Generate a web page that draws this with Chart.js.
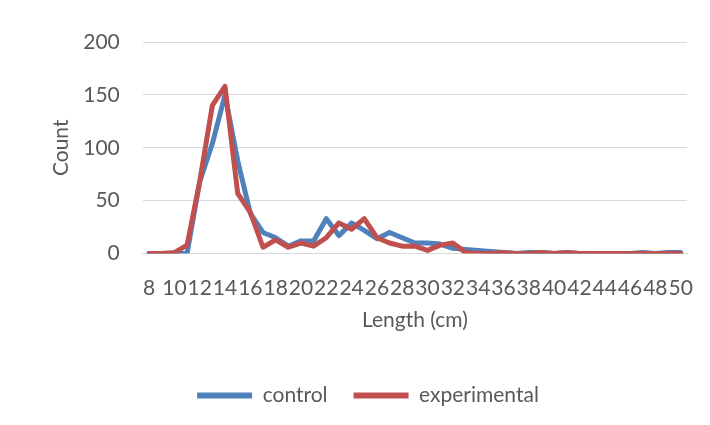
<!DOCTYPE html>
<html>
<head>
<meta charset="utf-8">
<script src="https://cdn.jsdelivr.net/npm/chart.js@4"></script>
<style>
  html, body { margin: 0; padding: 0; background: #ffffff; }
  #wrap { width: 710px; height: 425px; position: relative; }
</style>
</head>
<body>
<div id="wrap"><canvas id="c" width="710" height="425"></canvas></div>
<script>
const lengths = [8,9,10,11,12,13,14,15,16,17,18,19,20,21,22,23,24,25,26,27,28,29,30,31,32,33,34,35,36,37,38,39,40,41,42,43,44,45,46,47,48,49,50];
const control = [0,0,0,0,68,104,150,88,38,20,15,7,12,12,33,17,29,22,14,20,15,10,10,9,5,4,3,2,1,0,1,1,0,1,0,0,0,0,0,1,0,1,1];
const experimental = [0,0,1,8,68,140,158,57,39,6,13,6,10,7,15,29,23,33,15,10,7,7,3,8,10,1,0,0,1,0,0,1,0,1,0,0,0,0,0,0,0,0,0];
const yTicks = [0,50,100,150,200];
const seriesNames = ['control','experimental'];
const xTitle = 'Length (cm)';
const yTitle = 'Count';

const BLUE = '#4F81BD';
const RED = '#C0504D';
const TXT = '#595959';
const FONT = 'Lato, Carlito, Calibri, sans-serif';
const FS = 21;

Chart.defaults.font.family = FONT;
Chart.defaults.color = TXT;

new Chart(document.getElementById('c'), {
  type: 'line',
  data: {
    labels: lengths.map(String),
    datasets: [
      { label: seriesNames[0], data: control, borderColor: BLUE, backgroundColor: BLUE, order: 1,
        borderWidth: 5, pointRadius: 0, tension: 0, borderJoinStyle: 'round', borderCapStyle: 'round' },
      { label: seriesNames[1], data: experimental, borderColor: RED, backgroundColor: RED, order: 0,
        borderWidth: 5, pointRadius: 0, tension: 0, borderJoinStyle: 'round', borderCapStyle: 'round' }
    ]
  },
  options: {
    responsive: false,
    animation: false,
    layout: { padding: { left: 49, right: 23, top: 42, bottom: 9 } },
    plugins: {
      tooltip: { enabled: false },
      legend: {
        position: 'bottom',
        labels: {
          font: { size: FS, family: FONT },
          color: TXT,
          boxWidth: 55,
          boxHeight: 6,
          padding: 26,
          sort: (a, b) => a.datasetIndex - b.datasetIndex,
          generateLabels(chart) {
            const items = Chart.defaults.plugins.legend.labels.generateLabels(chart);
            items.forEach(it => { it.lineWidth = 0; it.fillStyle = it.strokeStyle; });
            return items;
          }
        }
      }
    },
    scales: {
      x: {
        offset: true,
        grid: { display: true, drawOnChartArea: false, drawTicks: true, tickLength: 22, color: 'rgba(0,0,0,0)' },
        border: { display: true, color: '#D9D9D9', width: 1 },
        ticks: {
          autoSkip: false, minRotation: 0, maxRotation: 0, padding: 0,
          font: { size: FS, family: FONT }, color: TXT,
          callback(v, i) { const l = lengths[i]; return l % 2 === 0 ? String(l) : ''; }
        },
        title: { display: true, text: xTitle, font: { size: FS, family: FONT }, color: TXT, padding: { top: 7, bottom: 26 } }
      },
      y: {
        min: 0, max: 200,
        afterBuildTicks(axis) { axis.ticks = yTicks.map(v => ({ value: v })); },
        grid: { color: '#D9D9D9', lineWidth: 1, drawTicks: false },
        border: { display: false },
        ticks: { padding: 23, font: { size: FS, family: FONT }, color: TXT },
        title: { display: true, text: yTitle, font: { size: FS, family: FONT }, color: TXT, padding: { top: 0, bottom: -14 } }
      }
    }
  }
});
</script>
</body>
</html>
